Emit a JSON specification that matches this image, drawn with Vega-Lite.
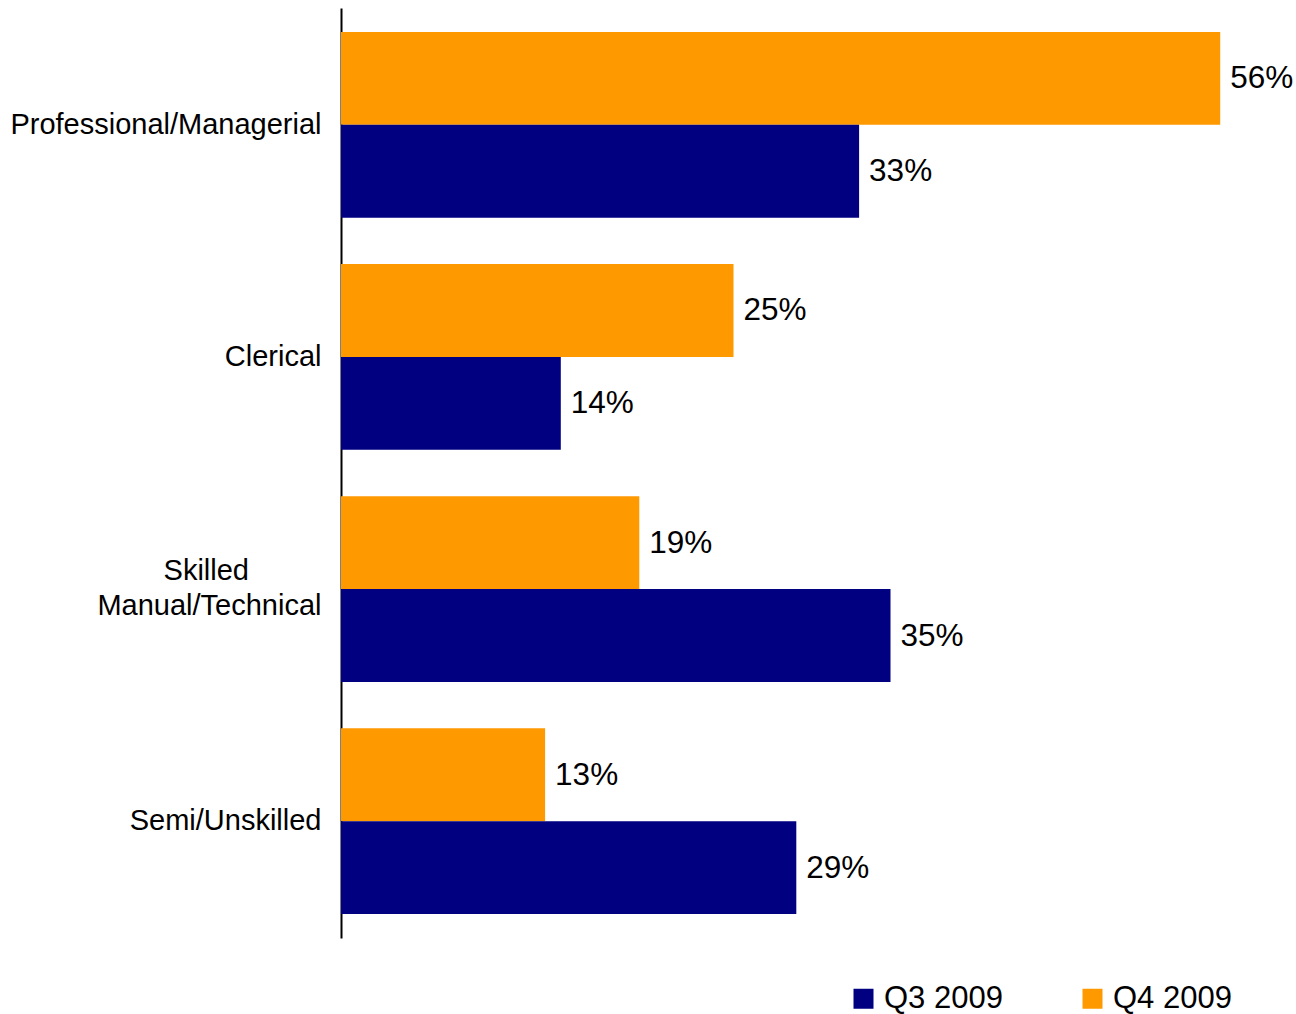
{
  "$schema": "https://vega.github.io/schema/vega-lite/v6.json",
  "width": 942,
  "height": 930,
  "autosize": "none",
  "padding": {"left": 341, "top": 8, "right": 13, "bottom": 76},
  "background": "white",
  "config": {"view": {"stroke": null}, "font": "Liberation Sans"},
  "data": {
    "values": [
      {"category": "Professional/Managerial", "series": "Q4 2009", "value": 0.56},
      {"category": "Professional/Managerial", "series": "Q3 2009", "value": 0.33},
      {"category": "Clerical", "series": "Q4 2009", "value": 0.25},
      {"category": "Clerical", "series": "Q3 2009", "value": 0.14},
      {"category": "Skilled Manual/Technical", "series": "Q4 2009", "value": 0.19},
      {"category": "Skilled Manual/Technical", "series": "Q3 2009", "value": 0.35},
      {"category": "Semi/Unskilled", "series": "Q4 2009", "value": 0.13},
      {"category": "Semi/Unskilled", "series": "Q3 2009", "value": 0.29}
    ]
  },
  "encoding": {
    "y": {
      "field": "category",
      "type": "nominal",
      "sort": ["Professional/Managerial", "Clerical", "Skilled Manual/Technical", "Semi/Unskilled"],
      "scale": {"paddingInner": 0.2, "paddingOuter": 0.103},
      "axis": {
        "title": null,
        "ticks": false,
        "domainColor": "#000000",
        "domainWidth": 2,
        "labelFontSize": 29,
        "labelColor": "#000000",
        "labelPadding": 20,
        "labelLineHeight": 35,
        "labelLimit": 400,
        "labelOffset": {"condition": {"test": "datum.value == 'Skilled Manual/Technical'", "value": -18}, "value": 0},
        "labelExpr": "datum.value == 'Skilled Manual/Technical' ? ['Skilled\u00a0\u00a0\u00a0\u00a0\u00a0\u00a0\u00a0\u00a0\u00a0\u200b', 'Manual/Technical'] : datum.value"
      }
    },
    "yOffset": {
      "field": "series",
      "type": "nominal",
      "scale": {"domain": ["Q4 2009", "Q3 2009"], "paddingInner": 0, "paddingOuter": 0}
    },
    "x": {
      "field": "value",
      "type": "quantitative",
      "scale": {"domain": [0, 0.6], "nice": false},
      "axis": null
    }
  },
  "layer": [
    {
      "mark": {"type": "bar"},
      "encoding": {
        "color": {
          "field": "series",
          "type": "nominal",
          "scale": {"domain": ["Q3 2009", "Q4 2009"], "range": ["#000080", "#FF9900"]},
          "legend": {
            "title": null,
            "orient": "none",
            "direction": "horizontal",
            "legendX": 507,
            "legendY": 975,
            "symbolType": "square",
            "symbolSize": 400,
            "symbolStrokeWidth": 0,
            "symbolOpacity": 1,
            "labelFontSize": 31,
            "labelColor": "#000000",
            "labelOffset": 5,
            "columnPadding": 74,
            "labelLimit": 300
          }
        }
      }
    },
    {
      "mark": {"type": "text", "align": "left", "baseline": "middle", "dx": 10, "dy": 1, "fontSize": 31.5, "color": "#000000"},
      "encoding": {
        "text": {"field": "value", "type": "quantitative", "format": ".0%"}
      }
    }
  ]
}
